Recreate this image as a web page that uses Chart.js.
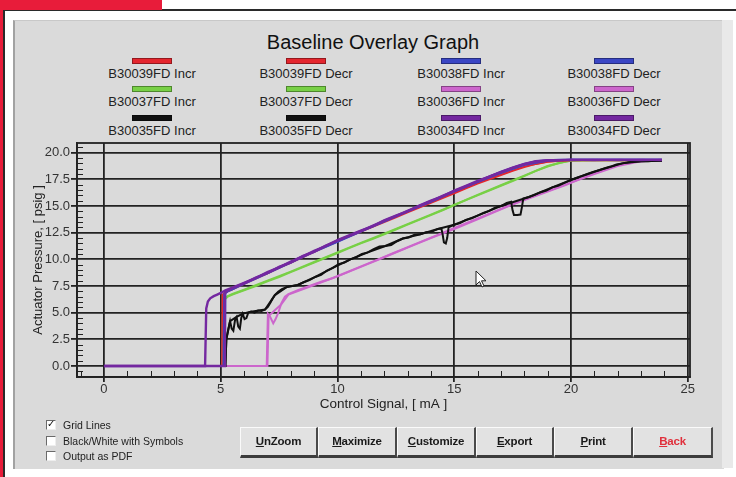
<!DOCTYPE html>
<html>
<head>
<meta charset="utf-8">
<script src="https://cdn.jsdelivr.net/npm/chart.js@4.4.1/dist/chart.umd.min.js"></script>
<style>
  body { margin:0; width:736px; height:477px; position:relative; overflow:hidden; background:#fff;
         font-family:'Liberation Sans', Arial, sans-serif; }
  .abs { position:absolute; }
  #legend .item { position:absolute; width:150px; text-align:center; }
  #legend .sw { width:38px; height:4px; margin:0 auto; border:1px solid rgba(0,0,0,0.35); }
  #legend .tx { font-size:13px; line-height:14px; margin-top:3px; color:#222; white-space:nowrap; }
  .chk { position:absolute; left:46px; width:8px; height:8px; background:#fff;
         border-top:1px solid #6a6a6a; border-left:1px solid #6a6a6a; border-right:1px solid #eee; border-bottom:1px solid #eee; }
  .chk span { position:absolute; left:0; top:-3px; font:bold 10px 'DejaVu Sans'; color:#111; }
  .chkl { position:absolute; left:63px; font-size:10.5px; line-height:12px; color:#222; white-space:nowrap; }
  .btn { position:absolute; top:427px; height:31px; box-sizing:border-box; background:#e2e2e2;
         border-top:1px solid #fafafa; border-left:1px solid #fafafa; border-right:2px solid #4a4a4a; border-bottom:3px solid #3c3c3c;
         font-weight:bold; font-size:11.5px; line-height:27px; text-align:center; color:#1a1a1a; letter-spacing:-0.2px; }
  .btn u { text-decoration:underline; }
</style>
</head>
<body>
<div class="abs" style="left:0;top:9px;width:736px;height:468px;border-top:2px solid #2a2a2a;box-sizing:border-box"></div>
<div class="abs" style="left:3px;top:9px;width:2px;height:468px;background:#2a2a2a"></div>
<div class="abs" style="left:0;top:0;width:162px;height:10px;background:#e81c3a"></div>
<div class="abs" style="left:0;top:0;width:3px;height:477px;background:#e81c3a"></div>
<div class="abs" style="left:13px;top:20px;width:709px;height:448px;background:#dadada;border-left:2px solid #a2a2a2;border-top:1px solid #c8c8c8"></div>
<div class="abs" style="left:722px;top:20px;width:11px;height:448px;background:#e9e9e9"></div>

<div class="abs" style="left:13px;top:31px;width:720px;text-align:center;font-size:20px;line-height:22px;color:#111">Baseline Overlay Graph</div>
<div id="legend"></div>

<canvas id="c" width="700" height="280" class="abs" style="left:20px;top:140px"></canvas>

<div class="chk" style="top:420px"><span>✓</span></div><div class="chkl" style="top:419px">Grid Lines</div>
<div class="chk" style="top:436px"></div><div class="chkl" style="top:435px">Black/White with Symbols</div>
<div class="chk" style="top:451px"></div><div class="chkl" style="top:450px">Output as PDF</div>

<div class="btn" style="left:240px;width:78px"><u>U</u>nZoom</div>
<div class="btn" style="left:318px;width:79px"><u>M</u>aximize</div>
<div class="btn" style="left:397px;width:79px"><u>C</u>ustomize</div>
<div class="btn" style="left:476px;width:78px"><u>E</u>xport</div>
<div class="btn" style="left:554px;width:79px"><u>P</u>rint</div>
<div class="btn" style="left:633px;width:80px;color:#e0303c"><u>B</u>ack</div>

<svg class="abs" style="left:475px;top:270px" width="14" height="20">
  <polygon points="1,1 1,15 4.5,11.5 7,17 9,16 6.5,10.8 11,10.8" fill="#fff" stroke="#222" stroke-width="1"/>
</svg>

<script>
// legend / series
const labels = ['B30039FD Incr', 'B30039FD Decr', 'B30038FD Incr', 'B30038FD Decr',
                'B30037FD Incr', 'B30037FD Decr', 'B30036FD Incr', 'B30036FD Decr',
                'B30035FD Incr', 'B30035FD Decr', 'B30034FD Incr', 'B30034FD Decr'];
const colors = ['#e4262e', '#e4262e', '#3a46c4', '#3a46c4', '#78d046', '#78d046',
                '#cc66cc', '#cc66cc', '#111111', '#111111', '#7428a0', '#7428a0'];
const drawOrder = [4, 4, 3, 3, 5, 5, 2, 2, 1, 1, 0, 0];

const xTicks = [0, 5, 10, 15, 20, 25];
const yTicks = [0, 2.5, 5, 7.5, 10, 12.5, 15, 17.5, 20];

// control signal grid used by the upper curves
const xGrid = [5.5, 6, 6.5, 7, 7.5, 8, 8.5, 9, 9.5, 10, 10.5, 11, 11.5, 12, 12.5, 13, 13.5, 14, 14.5, 15,
               15.5, 16, 16.5, 17, 17.5, 18, 18.5, 19, 19.5, 20, 21, 22, 23, 23.9];

// B30039 (red)
const xRedIncr = [0, 5.12, 5.15, 5.3, ...xGrid];
const yRedIncr = [0, 0, 6.8, 7.0,
  7.2, 7.7, 8.2, 8.7, 9.2, 9.7, 10.2, 10.7, 11.2, 11.7,
  12.15, 12.6, 13.05, 13.5, 13.95, 14.4, 14.85, 15.3, 15.75, 16.2,
  16.65, 17.1, 17.5, 17.9, 18.3, 18.65, 18.95, 19.15, 19.25, 19.3,
  19.3, 19.3, 19.3, 19.3];
const xRedDecr = [0, 5.05, 5.07, 5.15, 5.3, 5.5, 6, 7, 8, 9, 10, 11, 12, 13, 14, 15, 16, 17, 18, 19, 20, 22, 23.9];
const yRedDecr = [0, 0, 6.7, 6.85, 7.0, 7.2, 7.75, 8.75, 9.75, 10.75, 11.7, 12.6, 13.55, 14.45, 15.35, 16.25,
  17.15, 17.95, 18.7, 19.15, 19.3, 19.3, 19.3];

// B30038 (blue)
const xBlueIncr = [0, 5.18, 5.2, 5.3, ...xGrid];
const yBlueIncr = [0, 0, 6.9, 7.05,
  7.25, 7.75, 8.25, 8.75, 9.25, 9.75, 10.25, 10.75, 11.25, 11.7,
  12.2, 12.65, 13.1, 13.6, 14.05, 14.5, 15.0, 15.45, 15.9, 16.4,
  16.85, 17.3, 17.75, 18.2, 18.6, 18.95, 19.2, 19.3, 19.35, 19.35,
  19.35, 19.35, 19.35, 19.35];
const xBlueDecr = [0, 5.12, 5.15, 5.3, 5.5, 6, 7, 8, 9, 10, 11, 12, 13, 14, 15, 16, 17, 18, 19, 20, 22, 23.9];
const yBlueDecr = [0, 0, 6.75, 7.0, 7.2, 7.7, 8.7, 9.7, 10.7, 11.65, 12.6, 13.55, 14.5, 15.4, 16.35,
  17.25, 18.1, 18.85, 19.25, 19.35, 19.35, 19.35];

// B30037 (green)
const xGreenIncr = [0, 5.1, 5.14, 5.3, ...xGrid];
const yGreenIncr = [0, 0, 6.2, 6.5,
  6.7, 7.1, 7.5, 7.95, 8.35, 8.8, 9.25, 9.7, 10.15, 10.6,
  11.05, 11.5, 11.9, 12.35, 12.8, 13.25, 13.7, 14.15, 14.6, 15.1,
  15.55, 16.0, 16.45, 16.9, 17.35, 17.8, 18.3, 18.7, 19.05, 19.25,
  19.3, 19.3, 19.3, 19.3];
const xGreenDecr = [0, 5.08, 5.1, 5.3, 5.5, 6, 7, 8, 9, 10, 11, 12, 13, 14, 15, 16, 17, 18, 19, 20, 22, 23.9];
const yGreenDecr = [0, 0, 6.3, 6.55, 6.75, 7.15, 8.0, 8.85, 9.75, 10.65, 11.55, 12.4, 13.3, 14.2, 15.1,
  16.05, 16.95, 17.85, 18.75, 19.3, 19.3, 19.3];

// B30036 (pink)
const xPinkIncr = [0, 6.97, 7.02, 7.12, 7.25, 7.35, 7.45, 7.6, 7.75, 7.9,
  8.3, 8.8, 9.3, 9.8, 10.3, 10.8, 11.3, 11.8, 12.3, 12.8,
  13.3, 13.8, 14.3, 14.8, 15.3, 15.8, 16.3, 16.8, 17.3, 17.8,
  18.3, 18.8, 19.3, 19.8, 20.3, 20.8, 21.3, 21.8, 22.3, 22.8,
  23.3, 23.9];
const yPinkIncr = [0, 0, 4.9, 4.6, 4.0, 4.4, 4.9, 5.9, 6.5, 6.75,
  7.1, 7.5, 7.9, 8.25, 8.7, 9.15, 9.6, 10.05, 10.5, 10.95,
  11.4, 11.85, 12.3, 12.75, 13.2, 13.65, 14.1, 14.55, 15.0, 15.4,
  15.8, 16.2, 16.6, 17.0, 17.45, 17.9, 18.3, 18.7, 19.0, 19.15,
  19.25, 19.3];
const xPinkDecr = [0, 7.0, 7.05, 7.6, 7.9, 9, 10, 11, 12, 13, 14, 15, 16, 17, 18, 19, 20, 21, 22, 23, 23.9];
const yPinkDecr = [0, 0, 4.7, 5.8, 6.7, 7.6, 8.4, 9.3, 10.2, 11.1, 12.0, 12.85, 13.75, 14.7, 15.6, 16.4,
  17.2, 18.0, 18.75, 19.2, 19.3];

// B30035 (black)
const xBlackIncr = [0, 5.2, 5.24, 5.32, 5.4, 5.47, 5.54, 5.62, 5.68, 5.75,
  5.82, 5.88, 5.94, 6.02, 6.1, 6.18, 6.3, 6.45, 6.6, 6.75,
  6.9, 7.02, 7.12, 7.22, 7.32, 7.46, 7.62, 7.82, 8.05, 8.3,
  8.55, 8.8, 9.05, 9.3, 9.55, 9.8, 10.05, 10.3, 10.55, 10.8,
  11.05, 11.3, 11.55, 11.8, 12.05, 12.3, 12.55, 12.8, 13.05, 13.3,
  13.55, 13.8, 14.05, 14.3, 14.45, 14.5, 14.56, 14.64, 14.7, 14.76,
  15.0, 15.25, 15.5, 15.75, 16.0, 16.25, 16.5, 16.75, 17.0, 17.25,
  17.44, 17.5, 17.56, 17.7, 17.84, 17.9, 17.96, 18.2, 18.45, 18.7,
  18.95, 19.2, 19.45, 19.7, 19.95, 20.2, 20.45, 20.7, 20.95, 21.2,
  21.45, 21.7, 21.95, 22.2, 22.45, 22.7, 23.0, 23.3, 23.6, 23.9];
const yBlackIncr = [0, 0, 2.5, 3.4, 4.2, 3.5, 3.3, 4.4, 4.6, 3.7,
  3.5, 4.5, 4.9, 4.4, 4.5, 5.0, 5.1, 5.0, 5.2, 5.15,
  5.3, 5.55, 5.9, 6.3, 6.65, 6.95, 7.2, 7.4, 7.5, 7.6,
  7.85, 8.05, 8.35, 8.55, 8.95, 9.2, 9.55, 9.7, 10.0, 10.2,
  10.5, 10.65, 10.95, 11.2, 11.25, 11.35, 11.7, 11.95, 12.05, 12.3,
  12.35, 12.55, 12.6, 12.85, 12.9, 12.4, 11.6, 11.5, 12.0, 13.0,
  13.25, 13.4, 13.7, 13.85, 14.1, 14.35, 14.55, 14.85, 15.0, 15.3,
  15.4, 14.6, 14.15, 14.15, 14.2, 14.9, 15.7, 15.85, 16.05, 16.3,
  16.45, 16.75, 16.9, 17.15, 17.4, 17.6, 17.8, 18.0, 18.2, 18.35,
  18.55, 18.7, 18.9, 19.0, 19.1, 19.15, 19.2, 19.2, 19.25, 19.25];
const xBlackDecr = [0, 5.2, 5.24, 5.4, 5.68, 5.94, 6.3, 6.9, 7.32, 7.82,
  8.3, 9.05, 9.8, 10.55, 11.3, 12.05, 12.8, 13.55, 14.3, 15.0,
  16.0, 17.0, 18.2, 19.2, 20.2, 21.2, 22.2, 23.0, 23.9];
const yBlackDecr = [0, 0, 2.5, 4.2, 4.6, 4.9, 5.1, 5.3, 6.65, 7.4,
  7.6, 8.35, 9.2, 10.0, 10.65, 11.25, 11.95, 12.35, 12.85, 13.25,
  14.1, 15.0, 15.85, 16.75, 17.6, 18.35, 19.0, 19.2, 19.25];

// B30034 (purple)
const xPurpleIncr = [0, 5.15, 5.18, 5.3, ...xGrid];
const yPurpleIncr = [0, 0, 6.85, 7.1,
  7.3, 7.75, 8.3, 8.7, 9.3, 9.7, 10.3, 10.7, 11.3, 11.75,
  12.2, 12.65, 13.15, 13.6, 14.05, 14.55, 15.0, 15.45, 15.95, 16.4,
  16.85, 17.3, 17.75, 18.15, 18.55, 18.9, 19.15, 19.25, 19.3, 19.3,
  19.35, 19.3, 19.35, 19.3];
const xPurpleDecr = [0, 4.33, 4.38, 4.45, 4.55, 4.7, 4.85, 5.0, 5.2, ...xGrid];
const yPurpleDecr = [0, 0, 5.4, 6.05, 6.35, 6.55, 6.7, 6.85, 7.1,
  7.35, 7.8, 8.25, 8.8, 9.25, 9.8, 10.25, 10.8, 11.25, 11.8,
  12.25, 12.7, 13.1, 13.65, 14.1, 14.5, 15.05, 15.5, 15.9, 16.45,
  16.9, 17.35, 17.75, 18.2, 18.6, 18.95, 19.2, 19.3, 19.3, 19.35,
  19.3, 19.35, 19.3, 19.35];

const seriesX = [xRedIncr, xRedDecr, xBlueIncr, xBlueDecr, xGreenIncr, xGreenDecr,
                 xPinkIncr, xPinkDecr, xBlackIncr, xBlackDecr, xPurpleIncr, xPurpleDecr];
const seriesY = [yRedIncr, yRedDecr, yBlueIncr, yBlueDecr, yGreenIncr, yGreenDecr,
                 yPinkIncr, yPinkDecr, yBlackIncr, yBlackDecr, yPurpleIncr, yPurpleDecr];

function pts(xs, ys) {
	return xs.map((x, i) => ({x: x, y: ys[i]}));
}

const datasets = labels.map((lab, i) => ({
	label: lab,
	data: pts(seriesX[i], seriesY[i]),
	borderColor: colors[i],
	borderWidth: i >= 10 ? 2.4 : (i === 1 ? 1.5 : 2),
	pointRadius: 0,
	fill: false,
	tension: 0,
	order: drawOrder[i]
}));

// frame round the plot and the small ticks
const frameTicks = {
	id: 'frameTicks',
	afterDraw(chart) {
		const {ctx, chartArea: a, scales: {x, y}} = chart;
		ctx.save();
		ctx.strokeStyle = '#222';
		ctx.lineWidth = 1;
		ctx.beginPath();
		for (let v = -1; v <= 25; v++) {
			if (v % 5 === 0) continue;
			const px = Math.round(x.getPixelForValue(v)) + 0.5;
			ctx.moveTo(px, a.bottom); ctx.lineTo(px, a.bottom - 6);
		}
		for (let v = -0.5; v <= 20.5; v += 0.5) {
			if (v % 2.5 === 0) continue;
			const py = Math.round(y.getPixelForValue(v)) + 0.5;
			ctx.moveTo(a.left, py); ctx.lineTo(a.left + 6, py);
		}
		ctx.stroke();
		ctx.lineWidth = 1.8;
		ctx.strokeRect(a.left, a.top, a.width, a.height);
		ctx.restore();
	}
};

function noPad(s) {
	s.paddingTop = 0; s.paddingBottom = 0; s.paddingLeft = 0; s.paddingRight = 0;
}

const font = "'Liberation Sans', Arial, sans-serif";
const chart = new Chart(document.getElementById('c').getContext('2d'), {
	type: 'line',
	data: {datasets: datasets},
	options: {
		responsive: false,
		animation: false,
		layout: {padding: {left: 0, right: 30, top: 3, bottom: 0}},
		plugins: {legend: {display: false}, tooltip: {enabled: false}},
		scales: {
			x: {
				type: 'linear', min: -1.156, max: 25.1,
				afterBuildTicks: s => { s.ticks = xTicks.map(v => ({value: v})); },
				afterFit: s => { s.height = 43; noPad(s); },
				grid: {color: '#222', lineWidth: 1.8, tickLength: 5},
				border: {display: true, color: '#222', width: 1.8},
				ticks: {color: '#333', font: {size: 13, family: font}, padding: 0, maxRotation: 0,
				        callback: v => String(v)},
				title: {display: true, text: 'Control Signal, [ mA ]', color: '#222',
				        font: {size: 13.5, family: font}, padding: {top: 0, bottom: 8}}
			},
			y: {
				type: 'linear', min: -1.03, max: 20.91,
				afterBuildTicks: s => { s.ticks = yTicks.map(v => ({value: v})); },
				afterFit: s => { s.width = 57; noPad(s); },
				grid: {color: '#222', lineWidth: 1.8, tickLength: 6},
				border: {display: true, color: '#222', width: 1.8},
				ticks: {color: '#333', font: {size: 13, family: font}, padding: 1,
				        callback: v => v.toFixed(1)},
				title: {display: true, text: 'Actuator Pressure, [ psig ]', color: '#222',
				        font: {size: 13, family: font}, padding: {top: 11, bottom: 0}}
			}
		}
	},
	plugins: [frameTicks]
});

// legend in four columns, built from the datasets
const colCenters = [152, 306, 461, 614];
const legend = document.getElementById('legend');
chart.data.datasets.forEach((ds, i) => {
	const col = i % 4, row = Math.floor(i / 4);
	const item = document.createElement('div');
	item.className = 'item';
	item.style.left = (colCenters[col] - 75) + 'px';
	item.style.top = (58 + row * 28.3) + 'px';
	item.innerHTML = '<div class="sw" style="background:' + ds.borderColor + '"></div><div class="tx">' + ds.label + '</div>';
	legend.appendChild(item);
});
</script>
</body>
</html>
